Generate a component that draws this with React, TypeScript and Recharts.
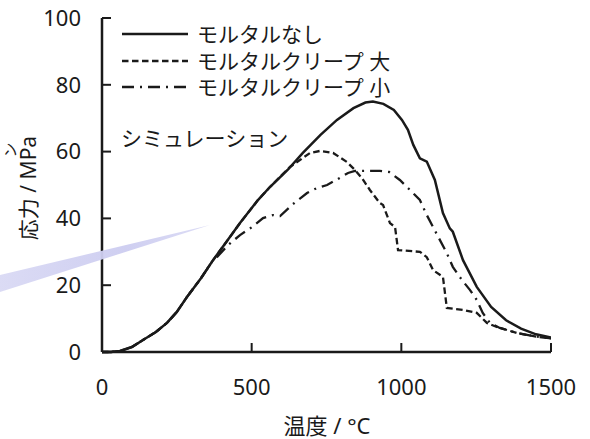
import React from 'react';
import { LineChart, Line, XAxis, YAxis, Legend } from 'recharts';

// 温度 [°C] / 応力 [MPa]
const tempNone = [0, 30, 60, 100, 137, 180, 217, 250, 284, 330, 371, 420, 461, 521, 561, 620, 671, 730, 785, 840, 880, 905, 940, 975, 1002, 1022, 1040, 1062, 1085, 1112, 1139, 1162, 1172, 1206, 1252, 1300, 1350, 1400, 1450, 1500];
const stressNone = [0, 0, 0.3, 1.5, 3.6, 6, 8.7, 12, 16.5, 22, 27.5, 33.5, 38.6, 45.5, 49.4, 54.5, 59.6, 65, 69.5, 73, 74.7, 75, 74.3, 72.5, 69.5, 66.5, 62, 58, 57, 51.5, 41.6, 37, 36, 27.5, 19.5, 13.5, 9.5, 7, 5.3, 4.3];

const tempLarge = [0, 30, 60, 100, 137, 180, 217, 250, 284, 330, 371, 420, 461, 521, 561, 628, 695, 728, 772, 818, 845, 869, 895, 928, 939, 962, 979, 989, 1062, 1085, 1106, 1139, 1152, 1206, 1252, 1286, 1319, 1386, 1450, 1500];
const stressLarge = [0, 0, 0.3, 1.5, 3.6, 6, 8.7, 12, 16.5, 22, 27.5, 33.5, 38.6, 45.5, 49.4, 55.4, 59.6, 60.2, 59.6, 56.9, 54.5, 52, 48.5, 44.6, 44, 38.6, 37.4, 30.5, 30, 28.4, 24.5, 22.5, 13.2, 12.6, 11.7, 8.7, 7.5, 5.7, 4.6, 4.1];

const tempSmall = [0, 30, 60, 100, 137, 180, 217, 250, 284, 330, 371, 384, 421, 461, 501, 538, 571, 595, 638, 685, 718, 752, 788, 822, 845, 902, 928, 959, 995, 1029, 1062, 1085, 1106, 1129, 1152, 1172, 1202, 1229, 1252, 1272, 1296, 1329, 1386, 1450, 1500];
const stressSmall = [0, 0, 0.3, 1.5, 3.6, 6, 8.7, 12, 16.5, 22, 27.5, 28.4, 32, 35, 37.4, 40.1, 41, 40.7, 44.3, 47.6, 49.1, 50, 51.8, 53.6, 54.2, 54.2, 54.2, 53.9, 51.5, 48.5, 45.5, 41, 37.4, 33.5, 29.6, 25.5, 21.6, 18.6, 15.6, 11.7, 8.7, 7.2, 5.7, 4.6, 4.1];

const seriesNames = ['モルタルなし', 'モルタルクリープ 大', 'モルタルクリープ 小'];
const seriesDash = ['', '6.5 3.5', '12 6 2 6'];
const xTicks = [0, 500, 1000, 1500];
const yTicks = [0, 20, 40, 60, 80, 100];

const zip = (xs: number[], ys: number[]) => xs.map((x, i) => ({ x, y: ys[i] }));
const dataNone = zip(tempNone, stressNone);
const dataLarge = zip(tempLarge, stressLarge);
const dataSmall = zip(tempSmall, stressSmall);

const FONT = '"Noto Sans", "Noto Sans CJK JP", sans-serif';
const INK = '#1a1a1a';

const LegendBox = () => (
  <div style={{ fontFamily: FONT, fontSize: 21, color: INK }}>
    {seriesNames.map((name, i) => (
      <div key={name} style={{ display: 'flex', alignItems: 'center', height: 26.5 }}>
        <svg width={68} height={10} style={{ marginRight: 8 }}>
          <line x1={1} y1={5} x2={67} y2={5} stroke={INK} strokeWidth={2.3} strokeDasharray={seriesDash[i] || undefined} />
        </svg>
        <span style={{ lineHeight: '26px' }}>{name}</span>
      </div>
    ))}
  </div>
);

export default function App() {
  const tickStyle = { fontSize: 22, fill: INK, fontFamily: FONT };
  return (
    <div style={{ position: 'fixed', left: 0, top: 0, width: 590, height: 439, background: '#fff' }}>
      <LineChart width={590} height={439} margin={{ top: 18, right: 39, left: 42, bottom: 57 }}>
        <XAxis dataKey="x" type="number" domain={[0, 1500]} ticks={xTicks} allowDataOverflow
          height={30} tickSize={-9} tickMargin={36} tick={tickStyle}
          axisLine={{ stroke: INK, strokeWidth: 2.5 }} tickLine={{ stroke: INK, strokeWidth: 2 }} />
        <XAxis xAxisId="top" orientation="top" type="number" domain={[0, 1500]} height={0}
          tick={false} tickLine={false} axisLine={{ stroke: INK, strokeWidth: 2.5 }} />
        <YAxis type="number" domain={[0, 100]} ticks={yTicks} width={60}
          tickSize={-9} tickMargin={30} tick={tickStyle}
          axisLine={{ stroke: INK, strokeWidth: 2.5 }} tickLine={{ stroke: INK, strokeWidth: 2 }} />
        <YAxis yAxisId="right" orientation="right" type="number" domain={[0, 100]} width={0}
          tick={false} tickLine={false} axisLine={{ stroke: INK, strokeWidth: 2.5 }} />
        <Legend layout="vertical" align="center" verticalAlign="middle"
          wrapperStyle={{ top: 21, left: 121, width: 'auto' }} content={<LegendBox />} />
        <Line data={dataNone} dataKey="y" name={seriesNames[0]} type="linear" stroke={INK}
          strokeWidth={2.5} dot={false} isAnimationActive={false} />
        <Line data={dataLarge} dataKey="y" name={seriesNames[1]} type="linear" stroke={INK}
          strokeWidth={2.3} strokeDasharray={seriesDash[1]} dot={false} isAnimationActive={false} />
        <Line data={dataSmall} dataKey="y" name={seriesNames[2]} type="linear" stroke={INK}
          strokeWidth={2.3} strokeDasharray={seriesDash[2]} dot={false} isAnimationActive={false} />
      </LineChart>
      <svg width={590} height={439} style={{ position: 'absolute', left: 0, top: 0, pointerEvents: 'none' }}>
        <defs>
          <linearGradient id="wedge" x1="0" y1="0" x2="1" y2="0">
            <stop offset="0" stopColor="#cfcff1" stopOpacity={0.75} />
            <stop offset="0.6" stopColor="#cfcff1" stopOpacity={1} />
            <stop offset="1" stopColor="#d8d8f4" stopOpacity={0.9} />
          </linearGradient>
        </defs>
        <polygon points="0,275 210,225 0,292" fill="url(#wedge)" />
        <text x={121} y={146} fontSize={21} fontFamily={FONT} fill={INK}>シミュレーション</text>
        <text x={327} y={434} fontSize={22} fontFamily={FONT} fill={INK} textAnchor="middle">温度 / °C</text>
        <text transform="translate(36,188) rotate(-90)" fontSize={21} fontFamily={FONT} fill={INK} textAnchor="middle">応力 / MPa</text>
        <text transform="translate(16,150) rotate(-90)" fontSize={15} fontFamily={FONT} fill={INK} textAnchor="middle">ン</text>
      </svg>
    </div>
  );
}
